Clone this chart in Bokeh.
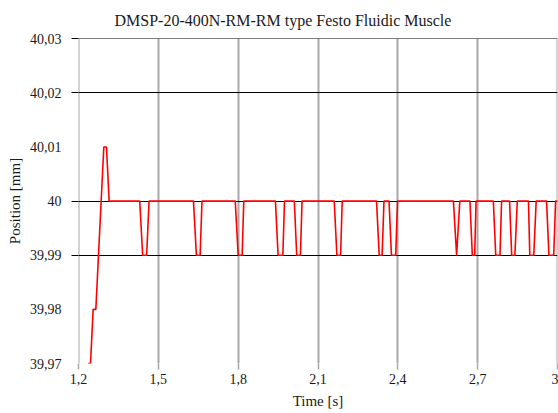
from bokeh.plotting import figure
from bokeh.models import Range1d, FixedTicker, LinearAxis, CustomLabelingPolicy
from bokeh.embed import file_html
from bokeh.resources import INLINE

time_s = [1.235, 1.245, 1.255, 1.265, 1.295, 1.305, 1.315,
          1.430, 1.441, 1.456, 1.465,
          1.632, 1.643, 1.657, 1.664,
          1.789, 1.800, 1.815, 1.821,
          1.940, 1.950, 1.968, 1.974,
          2.011, 2.020, 2.034, 2.040,
          2.161, 2.171, 2.185, 2.191,
          2.320, 2.330, 2.341, 2.348,
          2.367, 2.376, 2.392, 2.399,
          2.609, 2.621, 2.633,
          2.671, 2.680, 2.689, 2.694,
          2.759, 2.768, 2.784, 2.790,
          2.820, 2.828, 2.840, 2.849,
          2.891, 2.896, 2.911, 2.920,
          2.959, 2.968, 2.986, 2.993, 3.000]
position_mm = [39.97, 39.97, 39.98, 39.98, 40.01, 40.01, 40.00,
               40.00, 39.99, 39.99, 40.00,
               40.00, 39.99, 39.99, 40.00,
               40.00, 39.99, 39.99, 40.00,
               40.00, 39.99, 39.99, 40.00,
               40.00, 39.99, 39.99, 40.00,
               40.00, 39.99, 39.99, 40.00,
               40.00, 39.99, 39.99, 40.00,
               40.00, 39.99, 39.99, 40.00,
               40.00, 39.99, 40.00,
               40.00, 39.99, 39.99, 40.00,
               40.00, 39.99, 39.99, 40.00,
               40.00, 39.99, 39.99, 40.00,
               40.00, 39.99, 39.99, 40.00,
               40.00, 39.99, 39.99, 40.00, 40.00]

x_ticks = [1.2, 1.5, 1.8, 2.1, 2.4, 2.7, 3.0]
x_tick_labels = ["1,2", "1,5", "1,8", "2,1", "2,4", "2,7", "3"]
y_ticks = [39.97, 39.98, 39.99, 40.0, 40.01, 40.02, 40.03]
y_tick_labels = ["39,97", "39,98", "39,99", "40", "40,01", "40,02", "40,03"]
y_grid_values = [39.99, 40.0, 40.02, 40.03]

title_text = "DMSP-20-400N-RM-RM type Festo Fluidic Muscle"
x_label = "Time [s]"
y_label = "Position [mm]"

FONT = "Liberation Serif"
TXT = "#1a1a1a"

# ranges padded by a hair so that grid lines at 1,2 / 3 / 40,03 are drawn
p = figure(width=558, height=413, output_backend="svg", toolbar_location=None,
           x_range=Range1d(1.19985, 3.00015), y_range=Range1d(39.97, 40.03005),
           y_axis_location=None,
           min_border_left=78, min_border_right=1, min_border_top=38, min_border_bottom=50)
p.outline_line_color = None
p.background_fill_color = "white"

# grids
p.xgrid.ticker = FixedTicker(ticks=x_ticks)
p.xgrid.grid_line_color = "#a8a8a8"
p.xgrid.grid_line_width = 2
p.ygrid.ticker = FixedTicker(ticks=y_grid_values)
p.ygrid.grid_line_color = "black"
p.ygrid.grid_line_width = 1

# x axis
xa = p.xaxis[0]
xa.ticker = FixedTicker(ticks=x_ticks)
xa.major_label_overrides = dict(zip(x_ticks, x_tick_labels))
xa.axis_line_color = None
xa.major_tick_line_color = "#a8a8a8"
xa.major_tick_line_width = 1.5
xa.major_tick_out = 6
xa.major_tick_in = 0
xa.minor_tick_line_color = None
xa.major_label_standoff = 4
xa.major_label_text_font = FONT
xa.major_label_text_font_size = "14px"
xa.major_label_text_color = TXT
xa.axis_label = x_label
xa.axis_label_text_font = FONT
xa.axis_label_text_font_size = "15px"
xa.axis_label_text_font_style = "normal"
xa.axis_label_text_color = TXT
xa.axis_label_standoff = 6

# y axis: tick marks only where the black grid lines are (no labels drawn)
ya_ticks = LinearAxis(ticker=FixedTicker(ticks=y_grid_values),
                      axis_line_color=None, major_tick_out=7, major_tick_in=0,
                      major_tick_line_color="black", minor_tick_line_color=None,
                      major_label_policy=CustomLabelingPolicy(code="return []"),
                      major_label_text_font_size="0px",
                      major_label_standoff=0)
ya = LinearAxis(ticker=FixedTicker(ticks=y_ticks),
                major_label_overrides=dict(zip(y_ticks, y_tick_labels)),
                axis_line_color=None, major_tick_line_color=None, major_tick_out=0, major_tick_in=0,
                minor_tick_line_color=None, major_label_standoff=10,
                major_label_text_font=FONT, major_label_text_font_size="14px",
                major_label_text_color=TXT,
                axis_label=y_label, axis_label_text_font=FONT, axis_label_text_font_size="15px",
                axis_label_text_font_style="normal", axis_label_text_color=TXT,
                axis_label_standoff=4)
p.add_layout(ya_ticks, "left")
p.add_layout(ya, "left")

# title
p.title.text = title_text
p.title.text_font = FONT
p.title.text_font_size = "16px"
p.title.text_font_style = "normal"
p.title.text_color = TXT
p.title.align = "left"
p.title.offset = 36
p.title.standoff = 19

p.line(time_s, position_mm, line_color="#ff0000", line_width=1.6)

open("out.html", "w").write(file_html(p, INLINE))
